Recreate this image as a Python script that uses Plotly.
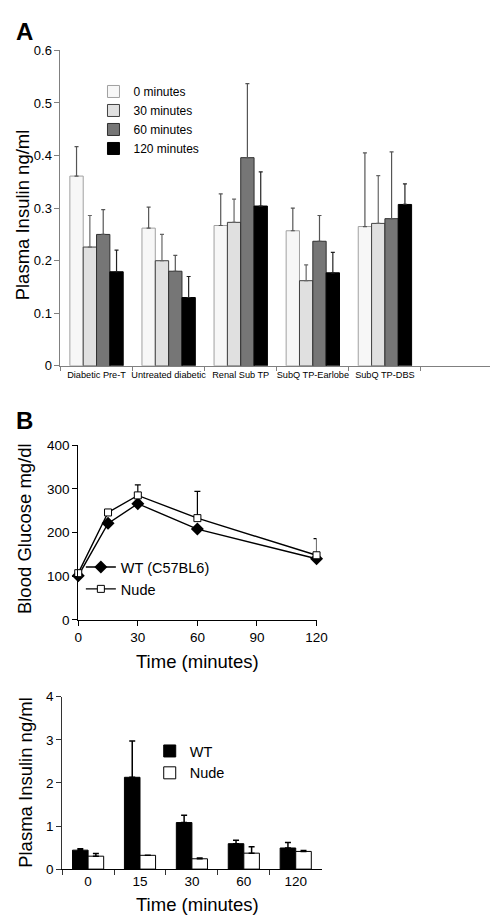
import plotly.graph_objects as go

# ---------------- Panel A data ----------------
groups_a = ["Diabetic Pre-T", "Untreated diabetic", "Renal Sub TP", "SubQ TP-Earlobe", "SubQ TP-DBS"]
extra_cat_a = " "
series_a = ["0 minutes", "30 minutes", "60 minutes", "120 minutes"]
ins_0 = [0.361, 0.262, 0.267, 0.257, 0.265]
ins_30 = [0.226, 0.200, 0.273, 0.162, 0.271]
ins_60 = [0.250, 0.180, 0.396, 0.237, 0.280]
ins_120 = [0.179, 0.130, 0.304, 0.177, 0.307]
err_0 = [0.056, 0.040, 0.060, 0.043, 0.140]
err_30 = [0.060, 0.050, 0.044, 0.030, 0.091]
err_60 = [0.047, 0.030, 0.141, 0.049, 0.127]
err_120 = [0.041, 0.040, 0.065, 0.039, 0.039]
yticks_a = [0, 0.1, 0.2, 0.3, 0.4, 0.5, 0.6]

# ---------------- Panel B (glucose) data ----------------
time_b = [0, 15, 30, 60, 120]
glu_wt = [101, 221, 266, 208, 140]
glu_nude = [107, 246, 285, 233, 148]
glu_nude_err = [3, 4, 24, 61, 38]
series_b = ["WT (C57BL6)", "Nude"]

# ---------------- Panel B (insulin) data ----------------
time_cats = ["0", "15", "30", "60", "120"]
ins_wt = [0.44, 2.13, 1.08, 0.59, 0.49]
ins_wt_err = [0.03, 0.84, 0.17, 0.08, 0.13]
ins_nude = [0.30, 0.32, 0.24, 0.37, 0.41]
ins_nude_err = [0.06, 0.0, 0.02, 0.15, 0.02]
signif = ["", "*", "*", "", ""]
series_c = ["WT", "Nude"]

FONT = "Liberation Sans, Arial, sans-serif"
W, H = 498, 918


def px_x(p):
    return p / W


def px_y(p):
    return 1 - p / H


fig = go.Figure()

# Panel A bars
vals_a = [ins_0, ins_30, ins_60, ins_120]
errs_a = [err_0, err_30, err_60, err_120]
fills_a = ["#f7f7f7", "#e0e0e0", "#767676", "#000000"]
lines_a = ["#a0a0a0", "#404040", "#303030", "#000000"]
errc_a = ["#555555", "#666666", "#555555", "#222222"]
bw_a = 0.185
for i in range(4):
    fig.add_trace(go.Bar(
        x=groups_a, y=vals_a[i], name=series_a[i],
        marker=dict(color=fills_a[i], line=dict(color=lines_a[i], width=1)),
        error_y=dict(type="data", array=errs_a[i], arrayminus=[0] * len(groups_a),
                     symmetric=False, color=errc_a[i], thickness=1.2, width=2),
        width=bw_a, offset=-2 * bw_a + i * bw_a,
        xaxis="x", yaxis="y", legend="legend",
    ))

# Panel B glucose lines
fig.add_trace(go.Scatter(
    x=time_b, y=glu_wt, name=series_b[0], mode="lines+markers",
    line=dict(color="black", width=1.4),
    marker=dict(symbol="diamond", size=10, color="black"),
    cliponaxis=False, xaxis="x2", yaxis="y2", legend="legend2",
))
fig.add_trace(go.Scatter(
    x=time_b, y=glu_nude, name=series_b[1], mode="lines+markers",
    line=dict(color="black", width=1.4),
    marker=dict(symbol="square", size=7, color="white", line=dict(color="black", width=1)),
    error_y=dict(type="data", array=glu_nude_err, arrayminus=[0] * len(time_b),
                 symmetric=False, color="black", thickness=1.2, width=3),
    cliponaxis=False, xaxis="x2", yaxis="y2", legend="legend2",
))

# Panel B insulin bars
bw_c = 0.3
fig.add_trace(go.Bar(
    x=time_cats, y=ins_wt, name=series_c[0],
    marker=dict(color="black", line=dict(color="black", width=1)),
    error_y=dict(type="data", array=ins_wt_err, arrayminus=[0] * len(time_cats),
                 symmetric=False, color="black", thickness=1.5, width=3),
    width=bw_c, offset=-bw_c, xaxis="x3", yaxis="y3", legend="legend3",
))
fig.add_trace(go.Bar(
    x=time_cats, y=ins_nude, name=series_c[1],
    marker=dict(color="white", line=dict(color="black", width=1)),
    error_y=dict(type="data", array=ins_nude_err, arrayminus=[0] * len(time_cats),
                 symmetric=False, color="black", thickness=1.5, width=3),
    width=bw_c, offset=0, xaxis="x3", yaxis="y3", legend="legend3",
))

annotations = []
for c, v, e, s in zip(time_cats, ins_wt, ins_wt_err, signif):
    if s:
        annotations.append(dict(x=c, y=v + e, xref="x3", yref="y3", text=s,
                                showarrow=False, yanchor="bottom", yshift=0,
                                xshift=-6, font=dict(size=13, color="black", family=FONT)))

TF = dict(size=18.5, family=FONT, color="black")
# Panel labels and axis titles
annotations += [
    dict(x=px_x(2), y=px_y(1), xref="paper", yref="paper", text="<b>A</b>",
         showarrow=False, xanchor="left", yanchor="top", font=dict(size=24, family=FONT, color="black")),
    dict(x=px_x(2), y=px_y(396), xref="paper", yref="paper", text="<b>B</b>",
         showarrow=False, xanchor="left", yanchor="top", font=dict(size=24, family=FONT, color="black")),
    dict(x=px_x(11), y=px_y(203), xref="paper", yref="paper", text="Plasma Insulin ng/ml",
         textangle=-90, showarrow=False, xanchor="center", yanchor="middle", font=TF),
    dict(x=px_x(13), y=px_y(522), xref="paper", yref="paper", text="Blood Glucose mg/dl",
         textangle=-90, showarrow=False, xanchor="center", yanchor="middle", font=TF),
    dict(x=px_x(191), y=px_y(657), xref="paper", yref="paper", text="Time (minutes)",
         showarrow=False, xanchor="center", yanchor="middle", font=TF),
    dict(x=px_x(14), y=px_y(780), xref="paper", yref="paper", text="Plasma Insulin ng/ml",
         textangle=-90, showarrow=False, xanchor="center", yanchor="middle", font=TF),
    dict(x=px_x(191), y=px_y(904), xref="paper", yref="paper", text="Time (minutes)",
         showarrow=False, xanchor="center", yanchor="middle", font=TF),
]

axis_common = dict(showgrid=False, zeroline=False, showline=True, ticks="outside",
                   linewidth=1, tickwidth=1)

fig.update_layout(
    width=W, height=H,
    margin=dict(l=0, r=0, t=0, b=0),
    paper_bgcolor="white", plot_bgcolor="white",
    font=dict(family=FONT, color="black"),
    barmode="group",
    showlegend=True,
    annotations=annotations,
    xaxis=dict(**axis_common, domain=[px_x(50), px_x(496)], anchor="y",
               type="category", categoryorder="array",
               categoryarray=groups_a + [extra_cat_a], range=[-0.5, 5.5],
               tickson="boundaries", ticklen=4, tickangle=0,
               linecolor="#808080", tickcolor="#808080",
               tickfont=dict(size=9.2, family=FONT, color="black")),
    yaxis=dict(**axis_common, domain=[px_y(356.7), px_y(36)], anchor="x",
               range=[0, 0.6], tickvals=yticks_a, ticktext=[str(v) for v in yticks_a],
               ticklen=5, linecolor="#808080", tickcolor="#808080",
               tickfont=dict(size=13, family=FONT, color="black")),
    xaxis2=dict(**axis_common, domain=[px_x(68.3), px_x(314)], anchor="y2",
                range=[0, 120], tickvals=[0, 30, 60, 90, 120], ticklen=5,
                linecolor="black", tickcolor="black",
                tickfont=dict(size=13.5, family=FONT, color="black")),
    yaxis2=dict(**axis_common, domain=[px_y(615), px_y(437.3)], anchor="x2",
                range=[0, 400], tickvals=[0, 100, 200, 300, 400], ticklen=5,
                linecolor="black", tickcolor="black",
                tickfont=dict(size=13.5, family=FONT, color="black")),
    xaxis3=dict(**axis_common, domain=[px_x(51.7), px_x(319.3)], anchor="y3",
                type="category", categoryorder="array", categoryarray=time_cats,
                range=[-0.5, 4.5], tickson="boundaries", ticklen=5, tickangle=0,
                linecolor="black", tickcolor="#333333",
                tickfont=dict(size=13.5, family=FONT, color="black")),
    yaxis3=dict(**axis_common, domain=[px_y(868.3), px_y(693)], anchor="x3",
                range=[0, 4], tickvals=[0, 1, 2, 3, 4], ticklen=5,
                linecolor="#333333", tickcolor="#333333",
                tickfont=dict(size=13.5, family=FONT, color="black")),
    legend=dict(x=px_x(84), y=px_y(63), xanchor="left", yanchor="top",
                bgcolor="rgba(0,0,0,0)", borderwidth=0, itemwidth=30,
                tracegroupgap=0, itemclick=False,
                font=dict(size=12, family=FONT, color="black")),
    legend2=dict(x=px_x(71), y=px_y(545), xanchor="left", yanchor="top",
                 bgcolor="rgba(0,0,0,0)", borderwidth=0, itemwidth=30,
                 font=dict(size=14.5, family=FONT, color="black")),
    legend3=dict(x=px_x(142), y=px_y(732), xanchor="left", yanchor="top",
                 bgcolor="rgba(0,0,0,0)", borderwidth=0, itemwidth=30,
                 font=dict(size=14.5, family=FONT, color="black")),
)

fig.write_html("out.html")
